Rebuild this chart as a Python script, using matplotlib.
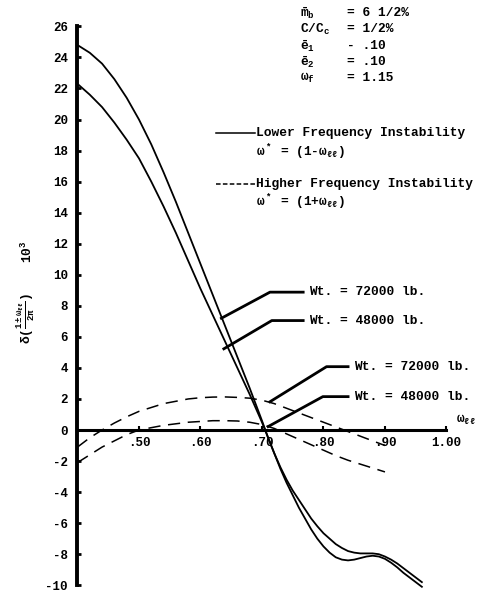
## 不安定領域の減衰比プロット (Wt. 72000 / 48000 lb.)
import numpy as np
import matplotlib.pyplot as plt

plt.rcParams['font.family'] = ['Liberation Mono', 'DejaVu Sans']
plt.rcParams['font.weight'] = 'bold'
plt.rcParams['axes.unicode_minus'] = False
plt.rcParams['mathtext.fontset'] = 'custom'
plt.rcParams['mathtext.rm'] = 'Liberation Mono:bold'
plt.rcParams['mathtext.it'] = 'Liberation Mono:bold'
plt.rcParams['mathtext.bf'] = 'Liberation Mono:bold'

# 低い周波数の不安定 (実線)
x_low = [0.40, 0.42, 0.44, 0.46, 0.48, 0.50, 0.52, 0.54, 0.56, 0.58, 0.60,
         0.62, 0.64, 0.66, 0.68, 0.70, 0.71]
y_low_72 = [24.8, 24.3, 23.6, 22.6, 21.4, 20.0, 18.4, 16.6, 14.7, 12.7, 10.7,
            8.7, 6.7, 4.7, 2.7, 0.6, -0.5]
y_low_48 = [22.3, 21.6, 20.8, 19.8, 18.7, 17.5, 16.0, 14.4, 12.7, 10.9, 9.1,
            7.4, 5.7, 4.0, 2.3, 0.5, -0.5]

# 交点より右側
x_tail = [0.72, 0.73, 0.74, 0.75, 0.76, 0.77, 0.78, 0.79, 0.80, 0.81, 0.82,
          0.83, 0.84, 0.85, 0.86, 0.87, 0.88, 0.89, 0.90, 0.91, 0.92, 0.93,
          0.94, 0.95, 0.96]
y_tail_72 = [-1.5, -2.5, -3.4, -4.2, -5.0, -5.7, -6.4, -7.0, -7.5, -7.9, -8.2,
             -8.35, -8.4, -8.35, -8.25, -8.15, -8.1, -8.15, -8.3, -8.55, -8.85,
             -9.2, -9.5, -9.8, -10.1]
y_tail_48 = [-1.5, -2.4, -3.2, -3.9, -4.5, -5.1, -5.7, -6.2, -6.65, -7.0, -7.35,
             -7.6, -7.8, -7.9, -7.95, -7.95, -7.95, -8.0, -8.15, -8.35, -8.6,
             -8.9, -9.2, -9.5, -9.8]

# 高い周波数の不安定 (破線)
x_high = [0.40, 0.42, 0.44, 0.46, 0.48, 0.50, 0.52, 0.54, 0.56, 0.58, 0.60,
          0.62, 0.64, 0.66, 0.68, 0.70, 0.72, 0.74, 0.76, 0.78, 0.80, 0.82,
          0.84, 0.86, 0.88, 0.90]
y_high_72 = [-1.1, -0.5, 0.0, 0.45, 0.85, 1.2, 1.45, 1.7, 1.85, 2.0, 2.08,
             2.12, 2.13, 2.1, 2.05, 1.92, 1.7, 1.4, 1.1, 0.8, 0.5, 0.2,
             -0.1, -0.4, -0.7, -1.0]
y_high_48 = [-2.1, -1.6, -1.1, -0.7, -0.3, 0.0, 0.15, 0.3, 0.4, 0.5, 0.55,
             0.6, 0.6, 0.58, 0.5, 0.35, 0.1, -0.25, -0.6, -0.95, -1.3, -1.65,
             -1.95, -2.2, -2.45, -2.7]

xticks = [0.50, 0.60, 0.70, 0.80, 0.90, 1.00]
xtick_labels = ['.50', '.60', '.70', '.80', '.90', '1.00']
yticks = list(range(-10, 27, 2))

params = [(r'$\bar{m}_b$', '= 6 1/2%'),
          (r'$C/C_c$', '= 1/2%'),
          (r'$\bar{e}_1$', '- .10'),
          (r'$\bar{e}_2$', '= .10'),
          (r'$\omega_f$', '= 1.15')]

fs = 9.3

fig = plt.figure(figsize=(4.91, 5.93), dpi=100)
ax = fig.add_axes([0.1578, 0.0, 0.7515, 1.0])
ax.set_xlim(0.40, 1.00)
ax.set_ylim(-10.5, 27.7)

lw = 1.3
ax.plot(x_low + x_tail, y_low_72 + y_tail_72, color='black', lw=lw, clip_on=False)
ax.plot(x_low + x_tail, y_low_48 + y_tail_48, color='black', lw=lw, clip_on=False)
ax.plot(x_high, y_high_72, color='black', lw=1.1, dashes=[8, 5], clip_on=False)
ax.plot(x_high, y_high_48, color='black', lw=1.1, dashes=[8, 5], clip_on=False)

# 軸
for s in ['top', 'right']:
    ax.spines[s].set_visible(False)
ax.spines['left'].set_linewidth(2.8)
ax.spines['left'].set_bounds(-10, 26)
ax.spines['bottom'].set_position(('data', 0))
ax.spines['bottom'].set_linewidth(2.2)
ax.set_xticks(xticks, xtick_labels)
ax.set_yticks(yticks)
ax.tick_params(axis='x', direction='in', length=3, width=1.5, pad=5, labelsize=9)
ax.tick_params(axis='y', direction='in', length=3, width=2, pad=7, labelsize=9)

ax.text(1.015, 0.25, r'$\omega_{\ell\ell}$', fontsize=fs, ha='left', va='bottom')
fig.text(0.052, 0.462, r'$\delta(\frac{1\pm\omega_{\ell\ell}}{2\pi})$',
         rotation=90, fontsize=fs, ha='center', va='center')
fig.text(0.055, 0.575, r'$10^3$', rotation=90, fontsize=fs, ha='center', va='center')

# パラメータ表
for i, (name, val) in enumerate(params):
    yy = 0.978 - i * 0.0275
    fig.text(0.612, yy, name, fontsize=fs, va='center', ha='left')
    fig.text(0.707, yy, val, fontsize=fs, va='center', ha='left')

# 凡例
ax.plot([0.625, 0.688], [19.14, 19.14], color='black', lw=1.1, clip_on=False)
ax.text(0.69, 19.14, 'Lower Frequency Instability', fontsize=fs, va='center')
ax.text(0.69, 17.92, r'$\omega^*$ = (1-$\omega_{\ell\ell}$)', fontsize=fs, va='center')
ax.plot([0.625, 0.688], [15.87, 15.87], color='black', lw=1.1, dashes=[3, 1.5], clip_on=False)
ax.text(0.69, 15.87, 'Higher Frequency Instability', fontsize=fs, va='center')
ax.text(0.69, 14.65, r'$\omega^*$ = (1+$\omega_{\ell\ell}$)', fontsize=fs, va='center')

# 重量の注記
notes = [((0.634, 7.2), (0.713, 8.88), 0.767, 'Wt. = 72000 lb.'),
         ((0.638, 5.23), (0.716, 7.05), 0.767, 'Wt. = 48000 lb.'),
         ((0.713, 1.82), (0.805, 4.08), 0.84, 'Wt. = 72000 lb.'),
         ((0.71, 0.22), (0.799, 2.15), 0.84, 'Wt. = 48000 lb.')]
for p0, p1, xe, label in notes:
    ax.plot([p0[0], p1[0], xe], [p0[1], p1[1], p1[1]], color='black', lw=2, clip_on=False)
    ax.text(xe + 0.01, p1[1], label, fontsize=fs, va='center', ha='left')

fig.savefig('out.png', dpi=100)
